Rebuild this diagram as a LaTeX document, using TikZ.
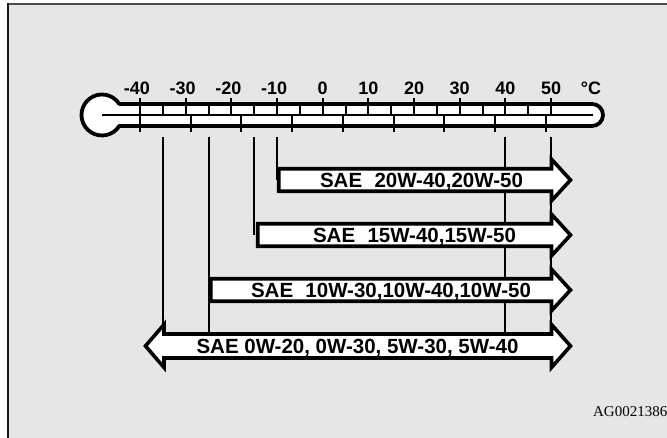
\documentclass[tikz,border=0pt]{standalone}
\usepackage{fontspec}
\setmainfont{Liberation Serif}
\setsansfont{Liberation Sans}
\usepackage{xcolor}
\usepackage{tikz}

\definecolor{panel}{RGB}{229,230,231}

\begin{document}
\begin{tikzpicture}[
    x=1pt, y=1pt,
    thermo/.style={draw=black, fill=white, line width=3.8pt, line join=round},
    tick/.style={line width=2pt},
    pointer/.style={line width=2pt},
    oilbox/.style={draw=black, fill=white, line width=3.6pt, line join=miter},
    scalelabel/.style={font=\sffamily\bfseries\fontsize{18}{21}\selectfont, anchor=base, inner sep=0pt},
    oillabel/.style={font=\sffamily\bfseries\fontsize{20.5}{24}\selectfont, anchor=base, inner sep=0pt}
]
\useasboundingbox (0,0) rectangle (667,438);

% =========================================================
% panel
% =========================================================
\fill[white] (0,0) rectangle (667,438);
\fill[panel] (8,0) rectangle (667,434);
\draw[line width=2pt, black!70] (8,434) -- (667,434);
\draw[line width=2pt, black!90] (8,0) -- (8,435);

% =========================================================
% thermometer
% =========================================================
\draw[thermo]
    (119.3,334) -- (592,334)
    arc[start angle=90, end angle=-90, radius=11]
    -- (119.3,312)
    arc[start angle=-32.45, end angle=-327.55, radius=20.5] -- cycle;
\draw[tick] (102,323) -- (593,323);

% celsius ticks (top half)
\foreach \c in {-30,-20,...,50}
    \draw[tick] ({140+(\c+40)*4.567},340) -- ++(0,-17);
\foreach \c in {-35,-25,...,45}
    \draw[tick] ({140+(\c+40)*4.567},334) -- ++(0,-11);
% fahrenheit ticks (bottom half)
\foreach \f in {-40,-20,...,120}
    \draw[tick] ({140+((\f-32)/1.8+40)*4.567},323) -- ++(0,-17);
\draw[tick] (140,340) -- (140,306);

% scale labels
\foreach \c/\n in {-40/40,-30/30,-20/20,-10/10}
    \node[scalelabel] (lab\n m) at ({140+(\c+40)*4.567},343) {\llap{-}\n};
\foreach \c in {0,10,...,50}
    \node[scalelabel] (lab\c) at ({140+(\c+40)*4.567},343) {\c};
\node[scalelabel] (unit) at (591,343) {°C};

% =========================================================
% pointers from the scale down to the bars
% =========================================================
\coordinate (pm35) at ({140+5*4.567},301);
\coordinate (pm25) at ({140+15*4.567},301);
\coordinate (pm15) at ({140+25*4.567},301);
\coordinate (pm10) at ({140+30*4.567},301);
\coordinate (pp40) at ({140+80*4.567},301);
\coordinate (pp50) at ({140+90*4.567},301);

\coordinate (arr1) at (421.5,258);
\coordinate (arr2) at (414.5,203);
\coordinate (arr3) at (391,148);
\coordinate (arr4) at (357.5,92);

\draw[pointer] (pm35) -- (pm35 |- arr4);
\draw[pointer] (pm25) -- (pm25 |- arr4);
\draw[pointer] (pm15) -- (pm15 |- arr2);
\draw[pointer] (pm10) -- (pm10 |- arr1);
\draw[pointer] (pp40) -- (pp40 |- arr4);
\draw[pointer] (pp50) -- (pp50 |- arr4);

% =========================================================
% oil grade bars
% =========================================================
\filldraw[oilbox]
    (278.75,269.25) -- (551.5,269.25) -- (551.5,278.75) -- (570.5,258)
    -- (551.5,237.25) -- (551.5,246.75) -- (278.75,246.75) -- cycle;
\filldraw[oilbox]
    (257.75,214.25) -- (551.5,214.25) -- (551.5,223.75) -- (570.5,203)
    -- (551.5,182.25) -- (551.5,191.75) -- (257.75,191.75) -- cycle;
\filldraw[oilbox]
    (210.75,159.25) -- (551.5,159.25) -- (551.5,168.75) -- (570.5,148)
    -- (551.5,127.25) -- (551.5,136.75) -- (210.75,136.75) -- cycle;
\filldraw[oilbox]
    (164,104) -- (551.5,104) -- (551.5,113.5) -- (570.5,92)
    -- (551.5,70.5) -- (551.5,80) -- (164,80)
    -- (164,70.5) -- (145.5,92) -- (164,113.5) -- cycle;

\node[oillabel, yshift=-7.5] (sae20) at (arr1) {SAE\hspace{0.6em}20W-40,20W-50};
\node[oillabel, yshift=-7.5] (sae15) at (arr2) {SAE\hspace{0.6em}15W-40,15W-50};
\node[oillabel, yshift=-7.5] (sae10) at (arr3) {SAE\hspace{0.6em}10W-30,10W-40,10W-50};
\node[oillabel, yshift=-7.5] (sae0) at (arr4) {SAE 0W-20, 0W-30, 5W-30, 5W-40};

% figure code
\node[font=\rmfamily\fontsize{15}{18}\selectfont, anchor=base east, inner sep=0pt]
    (code) at (667.5,21) {AG0021386};

\end{tikzpicture}
\end{document}
